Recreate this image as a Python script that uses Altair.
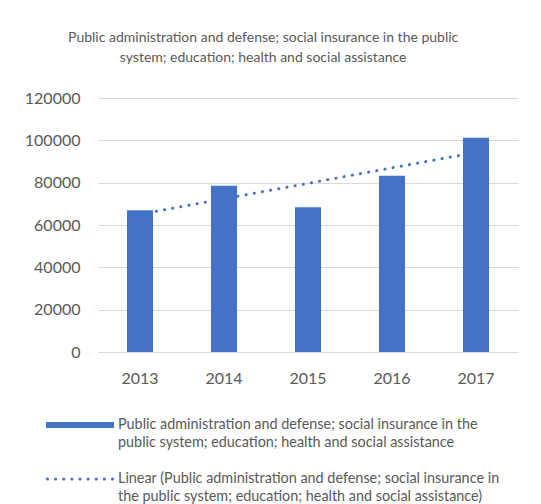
import altair as alt
import pandas as pd

# ---- data ----
years = [2013, 2014, 2015, 2016, 2017]
values = [67000, 78600, 68400, 83300, 101200]
y_ticks = [0, 20000, 40000, 60000, 80000, 100000, 120000]

series_name = ("Public administration and defense; social insurance in the public "
               "system; education; health and social assistance")
trend_name = "Linear (" + series_name + ")"
title_lines = ["Public administration and defense; social insurance in the public",
               "system; education; health and social assistance"]
series_label_lines = ["Public administration and defense; social insurance in the",
                      "public system; education; health and social assistance"]
trend_label_lines = ["Linear (Public administration and defense; social insurance in",
                     "the public system; education; health and social assistance)"]

# ---- styling ----
BLUE = "#4472C4"
GRID = "#D9D9D9"
TEXT = "#595959"
FONT = "Lato"

df = pd.DataFrame({"year": years, "value": values})
legend_df = pd.DataFrame({"series": [series_name, trend_name]})

# legend symbol shapes (unit coords, scaled by sqrt(size)/2)
bar_path = "M-1,-0.09L1,-0.09L1,0.09L-1,0.09Z"
r = 0.047
dot_path = ""
for i in range(9):
    c = -0.956 + i * 0.239
    dot_path += f"M{c - r:.3f},0a{r},{r} 0 1,0 {2 * r:.3f},0a{r},{r} 0 1,0 {-2 * r:.3f},0Z"

def js_arr(lines):
    return "[" + ",".join("'" + s + "'" for s in lines) + "]"

label_expr = (f"datum.label == '{series_name}' ? {js_arr(series_label_lines)} : "
              f"{js_arr(trend_label_lines)}")

x_enc = alt.X(
    "year:O", title=None,
    scale=alt.Scale(paddingInner=0.69, paddingOuter=0.345),
    axis=alt.Axis(labelAngle=0, ticks=False, tickSize=0, domainColor=GRID, domainWidth=1,
                  labelFont=FONT, labelFontSize=16, labelColor=TEXT, labelPadding=18,
                  grid=False),
)
y_enc = alt.Y(
    "value:Q", title=None,
    scale=alt.Scale(domain=[0, 120000], nice=False),
    axis=alt.Axis(values=y_ticks, domain=False, ticks=False, tickSize=0, grid=True,
                  gridColor=GRID, gridWidth=1, labelFont=FONT, labelFontSize=16,
                  labelColor=TEXT, labelPadding=18, format="d"),
)

trend = alt.Chart(df).transform_regression("year", "value", method="linear").mark_line(
    color=BLUE, strokeWidth=3, strokeDash=[0.1, 8.2], strokeCap="round"
).encode(x=x_enc, y=y_enc)

bars = alt.Chart(df).mark_bar(color=BLUE).encode(x=x_enc, y=y_enc)

leg = alt.Legend(
    title=None, orient="none", legendX=-52, legendY=300, direction="vertical", columns=1,
    symbolSize=4624, symbolStrokeWidth=0, symbolOpacity=1, symbolFillColor=BLUE,
    labelExpr=label_expr, labelLimit=0, labelFont=FONT, labelFontSize=14.4,
    labelColor=TEXT, labelBaseline="middle", labelOffset=4, clipHeight=54, rowPadding=0,
    symbolOffset=0, padding=0,
)

legend_layer = alt.Chart(legend_df).transform_filter("false").mark_point(
    filled=True, opacity=1, size=4624
).encode(
    color=alt.Color("series:N", scale=alt.Scale(domain=[series_name, trend_name],
                                                range=[BLUE, BLUE]), legend=leg),
    shape=alt.Shape("series:N", scale=alt.Scale(domain=[series_name, trend_name],
                                                range=[bar_path, dot_path]), legend=leg),
)

chart = alt.layer(trend, bars, legend_layer).properties(
    width=420, height=254,
    title=alt.TitleParams(text=title_lines, font=FONT, fontSize=14, color=TEXT,
                          fontWeight="normal", anchor="middle", frame="bounds",
                          lineHeight=20, offset=25, dx=-8),
    padding={"left": 16, "top": 23, "right": 5, "bottom": 0},
).configure(
    background="white",
    view={"strokeWidth": 0},
    style={"guide-label": {"lineHeight": 17.5}},
)

chart.save("out.html", embed_options={"renderer": "svg", "actions": False})
